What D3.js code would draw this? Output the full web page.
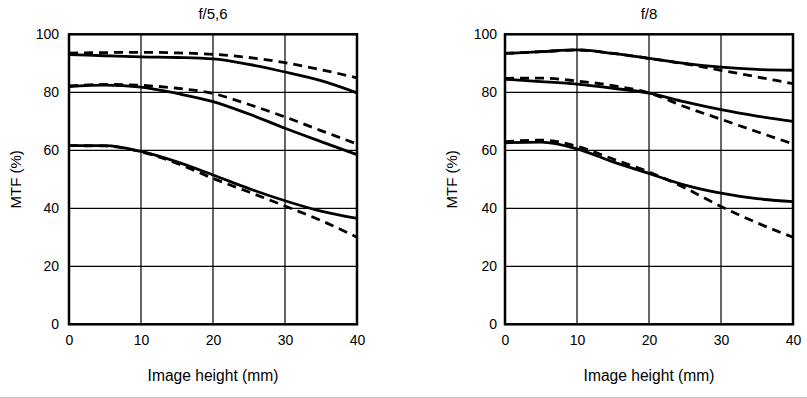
<!DOCTYPE html>
<html>
<head>
<meta charset="utf-8">
<script src="https://cdn.jsdelivr.net/npm/d3@7"></script>
<style>
  body { margin: 0; background: #fff; }
  svg { display: block; font-family: "Liberation Sans", Arial, sans-serif; }
</style>
</head>
<body>
<div id="chart"></div>
<script>
// image height positions (mm)
var heights = [0, 5, 10, 15, 20, 25, 30, 35, 40];
var xTicks = [0, 10, 20, 30, 40];
var yTicks = [0, 20, 40, 60, 80, 100];

// f/5,6 - solid = sagittal, dashed = meridional
var f56TopSolid = [93, 92.6, 92.2, 92, 91.5, 89.6, 87, 84, 79.8];
var f56TopDash = [93.5, 93.7, 93.8, 93.6, 93.1, 92, 90.2, 87.8, 85];
var f56MidSolid = [82, 82.5, 81.8, 79.6, 76.8, 72.5, 67.6, 63, 58.5];
var f56MidDash = [82.2, 82.7, 82.4, 81.4, 79.6, 75.8, 71.5, 66.8, 62.2];
var f56LowSolid = [61.6, 61.6, 59.6, 56, 51.5, 46.8, 42.6, 39, 36.5];
var f56LowDash = [61.6, 61.5, 59.5, 55.5, 50.3, 45.6, 40.8, 35.8, 30];

// f/8
var f8TopSolid = [93.4, 94, 94.6, 93.4, 91.7, 90, 88.7, 87.9, 87.6];
var f8TopDash = [93.4, 94, 94.6, 93.4, 91.7, 89.8, 87.6, 85.3, 83];
var f8MidSolid = [84.5, 83.7, 82.8, 81.4, 79.7, 76.7, 74, 71.8, 70];
var f8MidDash = [84.8, 84.9, 83.9, 82.3, 79.8, 75, 70.7, 66.4, 62.2];
var f8LowSolid = [62.6, 62.8, 60.5, 56, 52, 48, 45.2, 43.3, 42.3];
var f8LowDash = [63, 63.5, 61.4, 57, 52.5, 47, 40.6, 35, 30];

var width = 807, height = 398;

var panels = [
    {title: 'f/5,6', x0: 69, x1: 357, labelGap: 10, yLabelX: 16,
     series: [[f56TopSolid, false], [f56TopDash, true], [f56MidSolid, false],
              [f56MidDash, true], [f56LowSolid, false], [f56LowDash, true]]},
    {title: 'f/8', x0: 505, x1: 793, labelGap: 8, yLabelX: 452,
     series: [[f8TopSolid, false], [f8TopDash, true], [f8MidSolid, false],
              [f8MidDash, true], [f8LowSolid, false], [f8LowDash, true]]}
];

var svg = d3.select('#chart').append('svg')
    .attr('width', width).attr('height', height);

var y = d3.scaleLinear().domain([0, 100]).range([324.3, 34.3]);

panels.forEach(function (p) {
    var x = d3.scaleLinear().domain([0, 40]).range([p.x0, p.x1]);
    var g = svg.append('g');

    // grid
    g.selectAll('line.vgrid')
        .data(xTicks.slice(1, -1))
        .enter().append('line')
        .attr('x1', function (d) { return x(d); })
        .attr('x2', function (d) { return x(d); })
        .attr('y1', y(0)).attr('y2', y(100))
        .attr('stroke', '#000').attr('stroke-width', 1.2);
    g.selectAll('line.hgrid')
        .data(yTicks.slice(1, -1))
        .enter().append('line')
        .attr('x1', x(0)).attr('x2', x(40))
        .attr('y1', function (d) { return y(d); })
        .attr('y2', function (d) { return y(d); })
        .attr('stroke', '#000').attr('stroke-width', 1.2);

    // axes (labels only)
    var xAxis = g.append('g')
        .attr('transform', 'translate(0,' + y(0) + ')')
        .call(d3.axisBottom(x).tickValues(xTicks).tickSize(0).tickPadding(11));
    xAxis.select('.domain').remove();
    xAxis.selectAll('text').attr('font-size', 14).attr('fill', '#000')
        .attr('font-family', '"Liberation Sans", Arial, sans-serif');

    var yAxis = g.append('g')
        .attr('transform', 'translate(' + x(0) + ',0)')
        .call(d3.axisLeft(y).tickValues(yTicks).tickSize(0).tickPadding(p.labelGap));
    yAxis.select('.domain').remove();
    yAxis.selectAll('text').attr('font-size', 14).attr('fill', '#000')
        .attr('font-family', '"Liberation Sans", Arial, sans-serif');

    // curves
    var line = d3.line()
        .x(function (d, i) { return x(heights[i]); })
        .y(function (d) { return y(d); })
        .curve(d3.curveMonotoneX);
    p.series.forEach(function (s) {
        g.append('path')
            .attr('d', line(s[0]))
            .attr('fill', 'none')
            .attr('stroke', '#000')
            .attr('stroke-width', 2.8)
            .attr('stroke-dasharray', s[1] ? '9,6' : null);
    });

    // frame
    g.append('rect')
        .attr('x', x(0)).attr('y', y(100))
        .attr('width', x(40) - x(0)).attr('height', y(0) - y(100))
        .attr('fill', 'none').attr('stroke', '#000').attr('stroke-width', 2.5);

    // titles
    g.append('text')
        .attr('x', (x(0) + x(40)) / 2).attr('y', 19)
        .attr('text-anchor', 'middle').attr('font-size', 15)
        .text(p.title);
    g.append('text')
        .attr('x', (x(0) + x(40)) / 2).attr('y', 381)
        .attr('text-anchor', 'middle').attr('font-size', 15.6)
        .text('Image height (mm)');
    g.append('text')
        .attr('transform', 'translate(' + (p.yLabelX + 5) + ',' + y(50) + ') rotate(-90)')
        .attr('text-anchor', 'middle').attr('font-size', 15)
        .text('MTF (%)');
});

// light rule along the bottom edge
svg.append('line')
    .attr('x1', 0).attr('x2', width)
    .attr('y1', 397.5).attr('y2', 397.5)
    .attr('stroke', '#c8c8c8').attr('stroke-width', 1);
</script>
</body>
</html>
